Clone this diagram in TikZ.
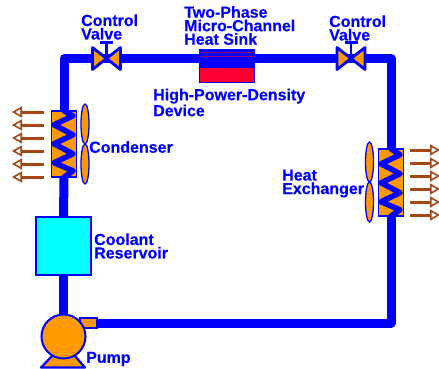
\documentclass[tikz,border=0pt]{standalone}
\usepackage{fontspec}
\setmainfont{Liberation Sans}[BoldFeatures={FakeBold=0.4}]
\usetikzlibrary{arrows.meta,calc}
\definecolor{pipeblue}{RGB}{0,0,255}
\definecolor{partorange}{RGB}{255,153,0}
\definecolor{heatbrown}{RGB}{165,70,20}
\definecolor{sinkred}{RGB}{255,0,51}
\definecolor{tankcyan}{RGB}{0,255,255}
\tikzset{
  pipe/.style={draw=pipeblue,line width=9pt,line join=round},
  coil/.style={draw=pipeblue,line width=5.5pt,line join=round,line cap=round},
  part/.style={draw=pipeblue,line width=1.5pt,fill=partorange,inner sep=0pt},
  fanblade/.style={draw=pipeblue,line width=1.3pt,fill=partorange},
  heatarrow/.style={draw=heatbrown,line width=3pt,-{Triangle[open,length=10pt,width=11pt,line width=1.6pt]}},
  lbl/.style={text=pipeblue,font=\fontsize{16}{13.5}\selectfont\bfseries,align=left,inner sep=0pt,anchor=west},
}
\begin{document}
\begin{tikzpicture}[x=1pt,y=-1pt]
\useasboundingbox (0,0) rectangle (439,369);
% parts used as connector ends
\node[draw=none,minimum width=25pt,minimum height=66pt,inner sep=0pt] (cond) at (64,144) {};
\node[draw=none,minimum width=25pt,minimum height=67pt,inner sep=0pt] (hx) at (391,182.5) {};
\node[draw=none,minimum width=56pt,minimum height=34pt,inner sep=0pt] (sink) at (227,66) {};
\node[draw=none,minimum size=1pt,inner sep=0pt] (vl) at (106.5,58.5) {};
\node[draw=none,minimum size=1pt,inner sep=0pt] (vr) at (351,58.5) {};
\node[draw=none,minimum width=55pt,minimum height=58pt,inner sep=0pt] (res) at (63.5,246) {};
\node[draw=none,circle,minimum size=45pt,inner sep=0pt] (pump) at (63.5,336.5) {};
\node[draw=none,minimum width=17pt,minimum height=10pt,inner sep=0pt] (out) at (88,323) {};
% pipes
\draw[pipe] (pump.center) -- (res.south);
\draw[pipe] (res.north) -- (cond.south);
\draw[pipe] (cond.center) -- (cond.center |- vl) -- (vl.center);
\draw[pipe] (vl.center) -- (sink.center |- vl);
\draw[pipe] (sink.center |- vl) -- (vr.center);
\draw[pipe] (vr.center) -- (hx.center |- vr) -- (hx.center);
\draw[pipe] (hx.center) -- (hx.center |- out) -- (out.east);
% condenser
\node[part,minimum width=25pt,minimum height=66pt] at (cond) {};
\draw[coil] (cond.north) -- ++(9,5) -- ++(-19,9) -- ++(19,10) -- ++(-19,9) -- ++(19,10) -- ++(-19,9) -- ++(19,8) -- (cond.south);
\draw[fanblade] (85,124) ellipse [x radius=4,y radius=20];
\draw[fanblade] (85,164) ellipse [x radius=4,y radius=20];
\foreach \y [count=\i] in {112,125,138,151,164,177}{
  \coordinate (cs\i) at (44,\y); \coordinate (ce\i) at (12,\y);
  \draw[heatarrow] (cs\i) -- (ce\i);
}
% heat exchanger
\node[part,minimum width=25pt,minimum height=67pt] at (hx) {};
\draw[coil] (hx.north) -- ++(9,6) -- ++(-19,9) -- ++(19,10) -- ++(-19,9) -- ++(19,10) -- ++(-19,9) -- ++(19,8) -- (hx.south);
\draw[fanblade] (369.5,162) ellipse [x radius=4,y radius=20];
\draw[fanblade] (369.5,202) ellipse [x radius=4,y radius=20];
\foreach \y [count=\i] in {150,163,176,189,202,215}{
  \coordinate (hs\i) at (410,\y); \coordinate (he\i) at (440,\y);
  \draw[heatarrow] (hs\i) -- (he\i);
}
% valves
\foreach \v in {vl,vr}{
  \draw[part,line width=2.8pt,line join=round] (\v.center) -- ++(-14,-11) -- ++(0,22) -- cycle;
  \draw[part,line width=2.8pt,line join=round] (\v.center) -- ++(14,-11) -- ++(0,22) -- cycle;
  \draw[draw=pipeblue,line width=2.8pt] (\v.center) -- ++(0,-16) ++(-6.5,0) -- ++(13,0);
}
% heat sink
\fill[pipeblue] (199,49) rectangle (255,67);
\draw[sinkred!60!pipeblue,line width=0.6pt] (199.5,52.5) -- (254.5,52.5);
\draw[sinkred!60!pipeblue,line width=0.6pt] (199.5,56.5) -- (254.5,56.5);
\draw[draw=pipeblue,line width=1.5pt,fill=sinkred] (199.5,67.5) rectangle (254.5,82.5);
% reservoir
\node[draw=pipeblue,line width=1.5pt,fill=tankcyan,minimum width=55pt,minimum height=58pt,inner sep=0pt] at (res) {};
% pump
\draw[part,line join=round,line width=2.2pt] (41,367.5) -- (53,355) -- (74,355) -- (85,367.5) -- cycle;
\node[part,line width=2pt,minimum width=17pt,minimum height=10pt] at (out) {};
\node[part,line width=2pt,circle,minimum size=44pt] at (pump) {};
% labels
\node[lbl] at (81,27) {Control\\Valve};
\node[lbl] at (329,28) {Control\\Valve};
\node[lbl] at (184,25.5) {Two-Phase\\Micro-Channel\\Heat Sink};
\node[lbl] at (153,102.5) {High-Power-Density\\Device};
\node[lbl] at (89,147) {Condenser};
\node[lbl] at (282,183.5) {Heat\\Exchanger};
\node[lbl] at (94,246) {Coolant\\Reservoir};
\node[lbl] at (86,359) {Pump};
\end{tikzpicture}
\end{document}
